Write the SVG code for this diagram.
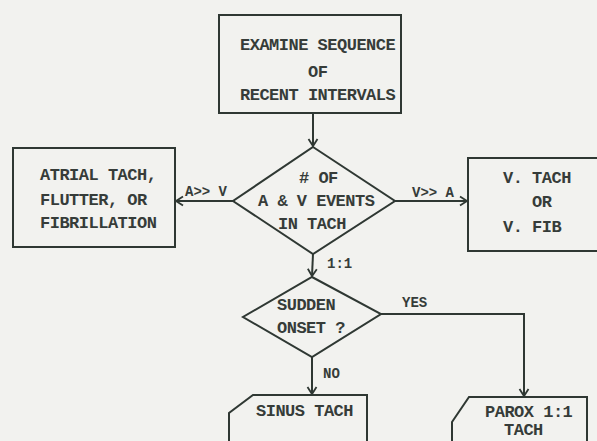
<svg xmlns="http://www.w3.org/2000/svg" width="597" height="441" viewBox="0 0 597 441">
<defs>
<style>
.bg{fill:#f2f2ef}
.sh{fill:none;stroke:#2f3833;stroke-width:2;stroke-linejoin:miter}
.ln{fill:none;stroke:#2f3833;stroke-width:2}
text{font-family:"Liberation Mono","DejaVu Sans Mono",monospace;font-weight:bold;font-size:17px;letter-spacing:-0.5px;fill:#363c39}
.sm{font-size:14px;letter-spacing:0}
</style>
<marker id="ah" markerUnits="userSpaceOnUse" markerWidth="12" markerHeight="12" viewBox="0 0 12 12" refX="10" refY="6" orient="auto">
<path d="M3,1.5 L10,6 L3,10.5" fill="none" stroke="#2f3833" stroke-width="1.8"/>
</marker>
</defs>
<rect class="bg" x="0" y="0" width="597" height="441"/>
<g id="connectors">
<line class="ln" x1="313" y1="113" x2="313" y2="146" marker-end="url(#ah)"/>
<line class="ln" x1="233" y1="201" x2="176" y2="201" marker-end="url(#ah)"/>
<text class="sm" x="185" y="196">A&gt;&gt; V</text>
<line class="ln" x1="395" y1="201" x2="467" y2="201" marker-end="url(#ah)"/>
<text class="sm" x="412" y="197">V&gt;&gt; A</text>
<line class="ln" x1="313" y1="254" x2="312" y2="276" marker-end="url(#ah)"/>
<text class="sm" x="327" y="268">1:1</text>
<line class="ln" x1="312" y1="357" x2="312" y2="394" marker-end="url(#ah)"/>
<text class="sm" x="323" y="378">NO</text>
<polyline class="ln" points="381,314 524,314 524,396" marker-end="url(#ah)"/>
<text class="sm" x="402" y="307">YES</text>
</g>
<g id="examine">
<rect class="sh" x="219" y="15" width="182" height="98"/>
<text x="240" y="50">EXAMINE SEQUENCE</text>
<text x="308" y="77">OF</text>
<text x="240" y="100">RECENT INTERVALS</text>
</g>
<g id="events">
<polygon class="sh" points="313,147 395,201 313,254 233,201"/>
<text x="299" y="183"># OF</text>
<text x="258" y="206">A &amp; V EVENTS</text>
<text x="278" y="229">IN TACH</text>
</g>
<g id="atrial">
<rect class="sh" x="13" y="148" width="162" height="99"/>
<text x="40" y="180">ATRIAL TACH,</text>
<text x="40" y="205">FLUTTER, OR</text>
<text x="40" y="228">FIBRILLATION</text>
</g>
<g id="vtach">
<path class="sh" d="M598,158 H468 V251 H598"/>
<text x="503" y="183">V. TACH</text>
<text x="532" y="207">OR</text>
<text x="503" y="232">V. FIB</text>
</g>
<g id="sudden">
<polygon class="sh" points="312,277 381,314 312,357 243,317"/>
<text x="277" y="310">SUDDEN</text>
<text x="277" y="333">ONSET ?</text>
</g>
<g id="sinus">
<path class="sh" d="M229,442 V413 L253,395 H367 V442"/>
<text x="256" y="416">SINUS TACH</text>
</g>
<g id="parox">
<path class="sh" d="M452,442 V422 L469,397 H587 V442"/>
<text x="485" y="417">PAROX 1:1</text>
<text x="504" y="435">TACH</text>
</g>
</svg>
